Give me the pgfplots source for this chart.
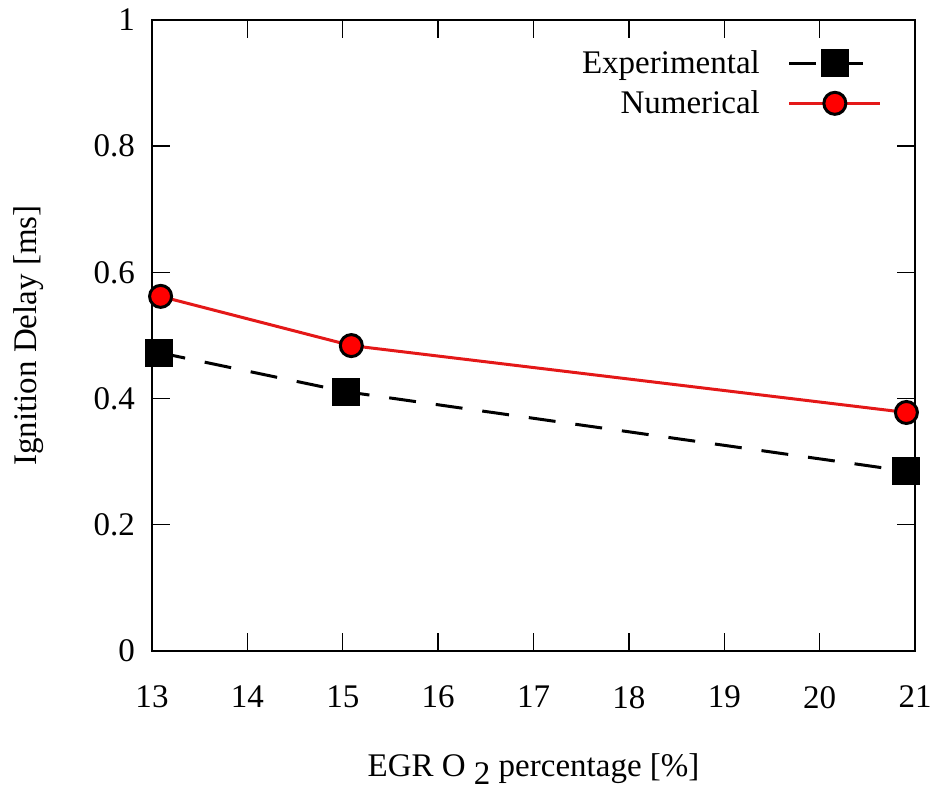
\documentclass[border=0pt]{standalone}
\usepackage{fontspec}
\setmainfont{Liberation Serif}
\usepackage{pgfplots}
\pgfplotsset{compat=1.18}
\definecolor{numred}{RGB}{228,24,24}
\begin{document}
\begin{tikzpicture}
\begin{axis}[
  scale only axis,
  width=381.5pt, height=315.5pt,
  xmin=13, xmax=21, ymin=0, ymax=1,
  xtick={13,14,...,21},
  ytick={0,0.2,0.4,0.6,0.8,1},
  yticklabels={0,0.2,0.4,0.6,0.8,1},
  tick align=inside,
  major tick length=9pt,
  tick style={line width=0.7pt, black},
  axis line style={line width=0.9pt},
  every tick label/.append style={font=\fontsize{16.5}{19}\selectfont},
  xticklabel style={yshift=-14pt},
  yticklabel style={xshift=-5pt},
  /pgf/number format/assume math mode=true,
  label style={font=\fontsize{16.5}{19}\selectfont},
  xlabel={EGR O \raisebox{-0.5ex}{2} percentage [\%]},
  ylabel={Ignition Delay [ms]},
  xlabel style={yshift=-16pt},
  ylabel style={yshift=18pt},
  clip=false,
  legend style={draw=none, fill=none, at={(0.965,0.965)}, anchor=north east,
    font=\fontsize{16.5}{19}\selectfont, row sep=3pt,
    /tikz/every odd column/.append style={column sep=12pt}},
  legend cell align=right,
  legend plot pos=right,
  legend image code/.code={\draw[#1, mark repeat=2, mark phase=2] plot coordinates {(0cm,0cm) (0.8cm,0cm) (1.6cm,0cm)};},
]
\addplot[black, line width=1.5pt, dash pattern=on 13.5pt off 10pt,
  mark=square*, mark size=6.25pt, mark options={solid, fill=black}]
  coordinates {(13.07,0.473) (15.03,0.411) (20.91,0.285)};
\addlegendentry{Experimental}
\addplot[numred, line width=1.5pt,
  mark=*, mark size=5.5pt, mark options={solid, draw=black, fill=red, line width=1.5pt}]
  coordinates {(13.09,0.562) (15.09,0.484) (20.91,0.378)};
\addlegendentry{Numerical}
\end{axis}
\path ([shift={(-76pt,-65.5pt)}]current axis.south west) rectangle ([shift={(12pt,10pt)}]current axis.north east);
\end{tikzpicture}
\end{document}
